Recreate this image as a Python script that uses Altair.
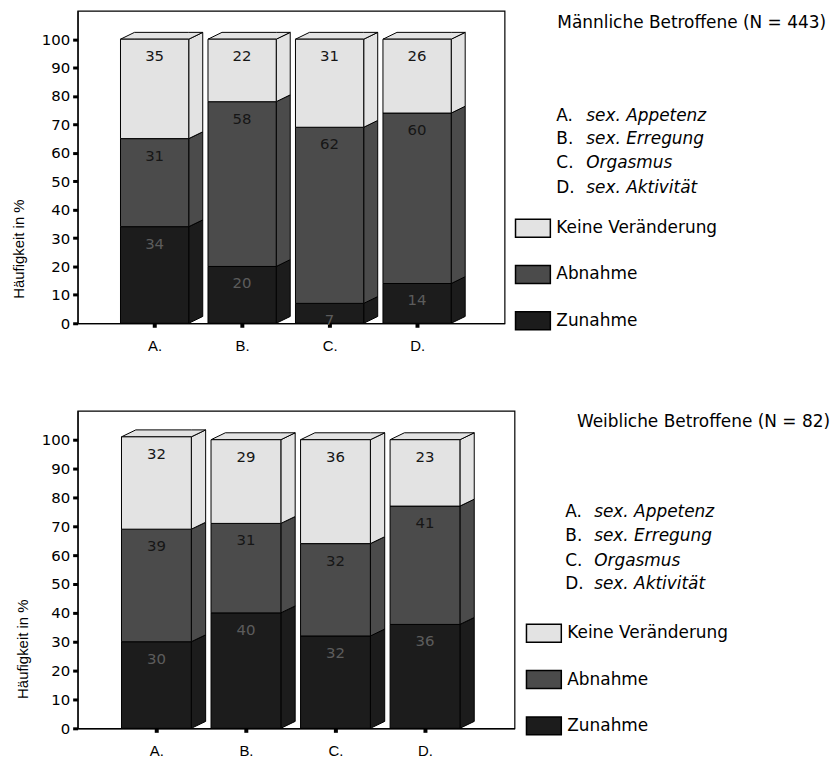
import json
import altair as alt
import pandas as pd

# ---- values -------------------------------------------------------------
categories = ["A.", "B.", "C.", "D."]
descriptions = ["sex. Appetenz", "sex. Erregung", "Orgasmus", "sex. Aktivität"]

segments = ["Zunahme", "Abnahme", "Keine Veränderung"]          # stacked bottom -> top
legend_order = ["Keine Veränderung", "Abnahme", "Zunahme"]
segment_colors = ["#e3e3e3", "#4b4b4b", "#1c1c1c"]

male_zunahme = [34, 20, 7, 14]
male_abnahme = [31, 58, 62, 60]
male_keine = [35, 22, 31, 26]

female_zunahme = [30, 40, 32, 36]
female_abnahme = [39, 31, 32, 41]
female_keine = [32, 29, 36, 23]

male_title = "Männliche Betroffene (N = 443)"
female_title = "Weibliche Betroffene (N = 82)"
y_title = "Häufigkeit in %"
y_ticks = list(range(0, 101, 10))

# ---- pseudo-3D box geometry (in scale units) -----------------------------
HALF = 0.39      # half width of the front face
DX = 0.16        # depth of the box along x
DY = 2.4         # depth of the box along y

FONT = "DejaVu Sans"


def build_faces(values):
    fronts, sides, tops = [], [], []
    for i, cat in enumerate(categories):
        pos = i + 1
        lo = 0
        for seg in segments:
            v = values[seg][i]
            hi = lo + v
            key = f"{cat}|{seg}"
            fronts.append(dict(seg=seg, x=pos - HALF, x2=pos + HALF, lo=lo, hi=hi,
                               mid=pos, val=v))
            sides.append(dict(key=key, seg=seg, x=pos + HALF, lo=lo, hi=hi))
            sides.append(dict(key=key, seg=seg, x=pos + HALF + DX, lo=lo + DY, hi=hi + DY))
            lo = hi
        key = f"{cat}|top"
        seg = segments[-1]
        tops += [
            dict(key=key, seg=seg, x=pos - HALF, lo=lo, hi=lo),
            dict(key=key, seg=seg, x=pos - HALF + DX, lo=lo, hi=lo + DY),
            dict(key=key, seg=seg, x=pos + HALF, lo=lo, hi=lo + DY),
            dict(key=key, seg=seg, x=pos + HALF + DX, lo=lo + DY, hi=lo + DY),
        ]
    return pd.DataFrame(fronts), pd.DataFrame(sides), pd.DataFrame(tops)


def panel(values, title, width, height, y_extent, layout):
    fronts, sides, tops = build_faces(values)

    label_expr = f"{json.dumps(categories)}[datum.value - 1]"
    x_axis = alt.Axis(values=[1, 2, 3, 4], labelExpr=label_expr, title=None, grid=False,
                      tickSize=4, tickWidth=4, labelPadding=11, labelFont="Liberation Sans",
                      labelFontSize=15, labelBaseline="top")
    y_axis = alt.Axis(values=y_ticks, title=y_title, grid=False, tickSize=5, tickWidth=3,
                      labelPadding=3, labelFont=FONT, labelFontSize=15,
                      minExtent=y_extent, maxExtent=y_extent, titlePadding=11, titleY=239,
                      titleFont="Liberation Sans", titleFontSize=15, titleFontWeight="normal")
    x_scale = alt.Scale(domain=[0.12, 5.0], nice=False, zero=False)
    y_scale = alt.Scale(domain=[0, 110], nice=False)

    legend = alt.Legend(title=None, orient="none", legendX=layout["legend_x"],
                        legendY=layout["legend_y"], symbolType="M-1,-0.514H1V0.514H-1Z",
                        symbolSize=1225, symbolStrokeColor="black", symbolStrokeWidth=1.5,
                        symbolOpacity=1, labelFont=FONT, labelFontSize=17, labelColor="black",
                        labelOffset=5, labelLimit=0, rowPadding=15.5, padding=0)
    color = alt.Color("seg:N", scale=alt.Scale(domain=legend_order, range=segment_colors),
                      legend=legend)

    x_enc = alt.X("x:Q", scale=x_scale, axis=x_axis)
    y_enc = alt.Y("lo:Q", scale=y_scale, axis=y_axis, stack=None)

    side_layer = alt.Chart(sides).mark_area(stroke="black", strokeWidth=1, orient="vertical",
                                            opacity=1).encode(
        x=x_enc, y=y_enc, y2="hi:Q", color=color, detail="key:N")
    top_layer = alt.Chart(tops).mark_area(stroke="black", strokeWidth=1, orient="vertical",
                                          opacity=1).encode(
        x=x_enc, y=y_enc, y2="hi:Q", color=color, detail="key:N")
    front_layer = alt.Chart(fronts).mark_rect(stroke="black", strokeWidth=1).encode(
        x=x_enc, x2="x2:Q", y=y_enc, y2="hi:Q", color=color)

    dark = fronts[fronts.seg != "Zunahme"]
    light = fronts[fronts.seg == "Zunahme"]
    label_dark = alt.Chart(dark).mark_text(dy=17, baseline="middle", font=FONT, fontSize=15,
                                           color="#161616").encode(
        x=alt.X("mid:Q", scale=x_scale, axis=x_axis),
        y=alt.Y("hi:Q", scale=y_scale, axis=y_axis), text="val:Q")
    label_light = alt.Chart(light).mark_text(dy=17, baseline="middle", font=FONT, fontSize=15,
                                             color="#5c5c5c").encode(
        x=alt.X("mid:Q", scale=x_scale, axis=x_axis),
        y=alt.Y("hi:Q", scale=y_scale, axis=y_axis), text="val:Q")

    # heading, key to the letters
    heading = alt.Chart(pd.DataFrame({"t": [title]})).mark_text(
        align="right", baseline="middle", font=FONT, fontSize=17, color="black").encode(
        x=alt.value(layout["title_x"]), y=alt.value(layout["title_y"]), text="t:N")
    keys = pd.DataFrame({"letter": categories, "desc": descriptions,
                         "yy": layout["key_y"]})
    letters = alt.Chart(keys).mark_text(
        align="left", baseline="middle", font=FONT, fontSize=17, color="black").encode(
        x=alt.value(layout["letter_x"]), y=alt.Y("yy:Q", scale=None), text="letter:N")
    descs = alt.Chart(keys).mark_text(
        align="left", baseline="middle", font=FONT, fontSize=17, fontStyle="italic",
        color="black").encode(
        x=alt.value(layout["desc_x"]), y=alt.Y("yy:Q", scale=None), text="desc:N")

    return alt.layer(side_layer, top_layer, front_layer, label_dark, label_light,
                     heading, letters, descs).properties(width=width, height=height)


male = panel(
    {"Zunahme": male_zunahme, "Abnahme": male_abnahme, "Keine Veränderung": male_keine},
    male_title, 429, 314, 40,
    dict(legend_x=439, legend_y=200, title_x=752, title_y=12,
         letter_x=481, desc_x=511, key_y=[106, 129, 153, 178]),
)
female = panel(
    {"Zunahme": female_zunahme, "Abnahme": female_abnahme, "Keine Veränderung": female_keine},
    female_title, 439, 319, 36,
    dict(legend_x=450, legend_y=205, title_x=756, title_y=11,
         letter_x=490, desc_x=519, key_y=[102, 126, 151, 174]),
)

chart = alt.vconcat(male, female, spacing=56).resolve_legend(color="independent").properties(
    padding={"left": 11, "top": 8, "right": 0, "bottom": 0}
).configure_view(stroke="black", strokeWidth=1.2).configure_axis(
    domainColor="black", tickColor="black", labelColor="black", titleColor="black",
    domainWidth=1.2)

chart.save("out.html", embed_options={"renderer": "svg", "actions": False})
